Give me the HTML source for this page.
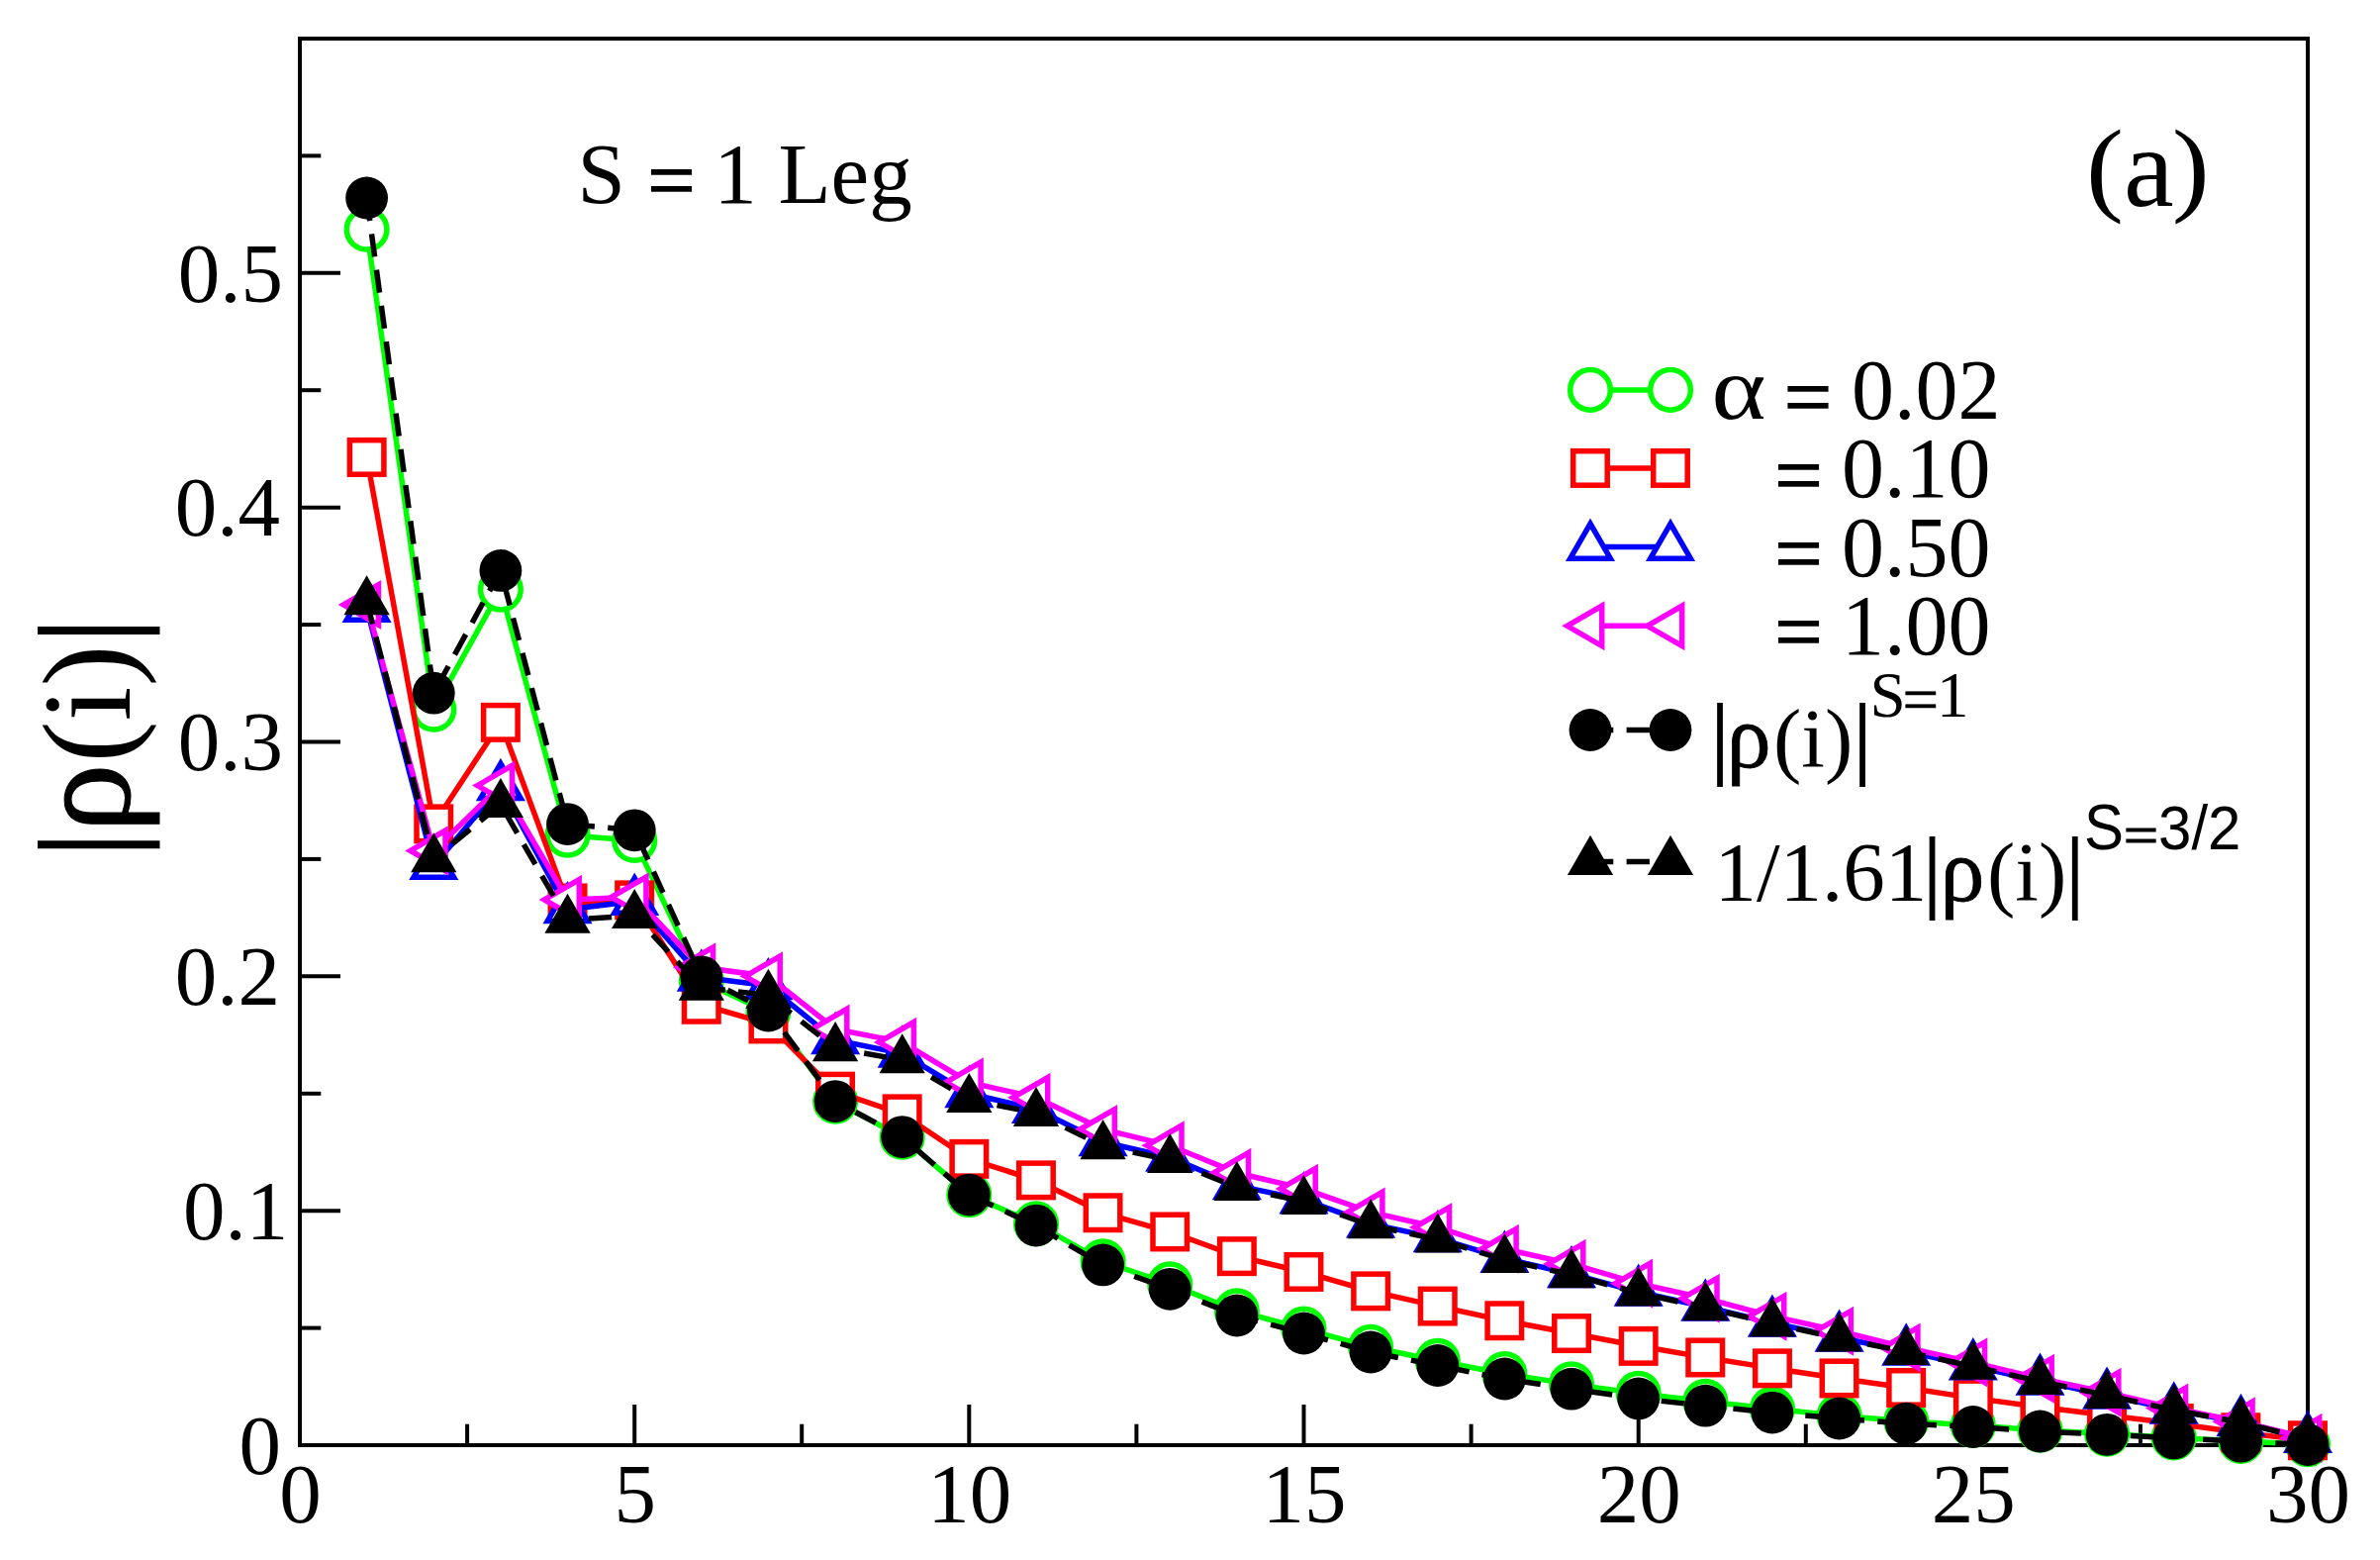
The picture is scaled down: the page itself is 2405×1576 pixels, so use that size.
<!DOCTYPE html>
<html><head><meta charset="utf-8"><title>plot</title>
<style>html,body{margin:0;padding:0;background:#fff}svg{display:block}</style></head>
<body>
<svg width="2405" height="1576" viewBox="0 0 2405 1576" shape-rendering="geometricPrecision">
<rect width="2405" height="1576" fill="#fff"/>
<g id="axes" stroke="#000" stroke-width="4" fill="none" stroke-linecap="butt">
<rect x="303.0" y="39.0" width="2029.0" height="1421.0"/>
<line x1="303.0" y1="1460.0" x2="344.0" y2="1460.0"/>
<line x1="303.0" y1="1341.6" x2="324.3" y2="1341.6"/>
<line x1="303.0" y1="1223.2" x2="344.0" y2="1223.2"/>
<line x1="303.0" y1="1104.8" x2="324.3" y2="1104.8"/>
<line x1="303.0" y1="986.3" x2="344.0" y2="986.3"/>
<line x1="303.0" y1="867.9" x2="324.3" y2="867.9"/>
<line x1="303.0" y1="749.5" x2="344.0" y2="749.5"/>
<line x1="303.0" y1="631.1" x2="324.3" y2="631.1"/>
<line x1="303.0" y1="512.7" x2="344.0" y2="512.7"/>
<line x1="303.0" y1="394.2" x2="324.3" y2="394.2"/>
<line x1="303.0" y1="275.8" x2="344.0" y2="275.8"/>
<line x1="303.0" y1="157.4" x2="324.3" y2="157.4"/>
<line x1="303.0" y1="39.0" x2="344.0" y2="39.0"/>
<line x1="303.0" y1="1460.0" x2="303.0" y2="1419.0"/>
<line x1="472.1" y1="1460.0" x2="472.1" y2="1438.7"/>
<line x1="641.2" y1="1460.0" x2="641.2" y2="1419.0"/>
<line x1="810.2" y1="1460.0" x2="810.2" y2="1438.7"/>
<line x1="979.3" y1="1460.0" x2="979.3" y2="1419.0"/>
<line x1="1148.4" y1="1460.0" x2="1148.4" y2="1438.7"/>
<line x1="1317.5" y1="1460.0" x2="1317.5" y2="1419.0"/>
<line x1="1486.6" y1="1460.0" x2="1486.6" y2="1438.7"/>
<line x1="1655.7" y1="1460.0" x2="1655.7" y2="1419.0"/>
<line x1="1824.8" y1="1460.0" x2="1824.8" y2="1438.7"/>
<line x1="1993.8" y1="1460.0" x2="1993.8" y2="1419.0"/>
<line x1="2162.9" y1="1460.0" x2="2162.9" y2="1438.7"/>
<line x1="2332.0" y1="1460.0" x2="2332.0" y2="1419.0"/>
</g>
<g id="ticklabels" font-family="'Liberation Serif', serif" font-size="85" fill="#000">
<text x="284.0" y="1488.7" text-anchor="end">0</text>
<text x="291.3" y="1251.9" text-anchor="end">0.1</text>
<text x="283.0" y="1015.0" text-anchor="end">0.2</text>
<text x="286.0" y="778.2" text-anchor="end">0.3</text>
<text x="283.0" y="541.4" text-anchor="end">0.4</text>
<text x="286.0" y="304.5" text-anchor="end">0.5</text>
<text x="303.5" y="1538" text-anchor="middle">0</text>
<text x="641.7" y="1538" text-anchor="middle">5</text>
<text x="979.8" y="1538" text-anchor="middle">10</text>
<text x="1318.0" y="1538" text-anchor="middle">15</text>
<text x="1656.2" y="1538" text-anchor="middle">20</text>
<text x="1994.3" y="1538" text-anchor="middle">25</text>
<text x="2332.5" y="1538" text-anchor="middle">30</text>
</g>
<g id="data">
<polyline points="370.6,231.8 438.3,716.8 505.9,595.6 573.5,843.8 641.2,849.0 708.8,991.1 776.4,1022.6 844.1,1112.8 911.7,1148.8 979.3,1207.1 1047.0,1236.2 1114.6,1274.3 1182.2,1297.3 1249.9,1324.3 1317.5,1342.5 1385.1,1360.8 1452.8,1374.7 1520.4,1388.0 1588.0,1398.4 1655.7,1407.7 1723.3,1415.7 1790.9,1423.3 1858.6,1430.2 1926.2,1435.8 1993.8,1439.9 2061.5,1444.8 2129.1,1448.6 2196.7,1452.4 2264.4,1456.0 2332.0,1459.3" fill="none" stroke="#00ff00" stroke-width="5.5"/>
<circle cx="370.6" cy="231.8" r="20.3" fill="#fff" stroke="#00ff00" stroke-width="5.5"/>
<circle cx="438.3" cy="716.8" r="20.3" fill="#fff" stroke="#00ff00" stroke-width="5.5"/>
<circle cx="505.9" cy="595.6" r="20.3" fill="#fff" stroke="#00ff00" stroke-width="5.5"/>
<circle cx="573.5" cy="843.8" r="20.3" fill="#fff" stroke="#00ff00" stroke-width="5.5"/>
<circle cx="641.2" cy="849.0" r="20.3" fill="#fff" stroke="#00ff00" stroke-width="5.5"/>
<circle cx="708.8" cy="991.1" r="20.3" fill="#fff" stroke="#00ff00" stroke-width="5.5"/>
<circle cx="776.4" cy="1022.6" r="20.3" fill="#fff" stroke="#00ff00" stroke-width="5.5"/>
<circle cx="844.1" cy="1112.8" r="20.3" fill="#fff" stroke="#00ff00" stroke-width="5.5"/>
<circle cx="911.7" cy="1148.8" r="20.3" fill="#fff" stroke="#00ff00" stroke-width="5.5"/>
<circle cx="979.3" cy="1207.1" r="20.3" fill="#fff" stroke="#00ff00" stroke-width="5.5"/>
<circle cx="1047.0" cy="1236.2" r="20.3" fill="#fff" stroke="#00ff00" stroke-width="5.5"/>
<circle cx="1114.6" cy="1274.3" r="20.3" fill="#fff" stroke="#00ff00" stroke-width="5.5"/>
<circle cx="1182.2" cy="1297.3" r="20.3" fill="#fff" stroke="#00ff00" stroke-width="5.5"/>
<circle cx="1249.9" cy="1324.3" r="20.3" fill="#fff" stroke="#00ff00" stroke-width="5.5"/>
<circle cx="1317.5" cy="1342.5" r="20.3" fill="#fff" stroke="#00ff00" stroke-width="5.5"/>
<circle cx="1385.1" cy="1360.8" r="20.3" fill="#fff" stroke="#00ff00" stroke-width="5.5"/>
<circle cx="1452.8" cy="1374.7" r="20.3" fill="#fff" stroke="#00ff00" stroke-width="5.5"/>
<circle cx="1520.4" cy="1388.0" r="20.3" fill="#fff" stroke="#00ff00" stroke-width="5.5"/>
<circle cx="1588.0" cy="1398.4" r="20.3" fill="#fff" stroke="#00ff00" stroke-width="5.5"/>
<circle cx="1655.7" cy="1407.7" r="20.3" fill="#fff" stroke="#00ff00" stroke-width="5.5"/>
<circle cx="1723.3" cy="1415.7" r="20.3" fill="#fff" stroke="#00ff00" stroke-width="5.5"/>
<circle cx="1790.9" cy="1423.3" r="20.3" fill="#fff" stroke="#00ff00" stroke-width="5.5"/>
<circle cx="1858.6" cy="1430.2" r="20.3" fill="#fff" stroke="#00ff00" stroke-width="5.5"/>
<circle cx="1926.2" cy="1435.8" r="20.3" fill="#fff" stroke="#00ff00" stroke-width="5.5"/>
<circle cx="1993.8" cy="1439.9" r="20.3" fill="#fff" stroke="#00ff00" stroke-width="5.5"/>
<circle cx="2061.5" cy="1444.8" r="20.3" fill="#fff" stroke="#00ff00" stroke-width="5.5"/>
<circle cx="2129.1" cy="1448.6" r="20.3" fill="#fff" stroke="#00ff00" stroke-width="5.5"/>
<circle cx="2196.7" cy="1452.4" r="20.3" fill="#fff" stroke="#00ff00" stroke-width="5.5"/>
<circle cx="2264.4" cy="1456.0" r="20.3" fill="#fff" stroke="#00ff00" stroke-width="5.5"/>
<circle cx="2332.0" cy="1459.3" r="20.3" fill="#fff" stroke="#00ff00" stroke-width="5.5"/>
<polyline points="370.6,462.0 438.3,832.4 505.9,729.8 573.5,912.4 641.2,909.4 708.8,1014.8 776.4,1034.4 844.1,1102.6 911.7,1125.4 979.3,1170.8 1047.0,1192.4 1114.6,1225.3 1182.2,1244.5 1249.9,1269.1 1317.5,1285.0 1385.1,1304.4 1452.8,1319.6 1520.4,1334.2 1588.0,1347.0 1655.7,1359.8 1723.3,1371.4 1790.9,1382.3 1858.6,1392.5 1926.2,1402.0 1993.8,1412.4 2061.5,1421.4 2129.1,1429.7 2196.7,1438.0 2264.4,1447.2 2332.0,1455.3" fill="none" stroke="#ff0000" stroke-width="5.5"/>
<rect x="353.4" y="444.7" width="34.5" height="34.5" fill="#fff" stroke="#ff0000" stroke-width="5.5"/>
<rect x="421.0" y="815.1" width="34.5" height="34.5" fill="#fff" stroke="#ff0000" stroke-width="5.5"/>
<rect x="488.6" y="712.6" width="34.5" height="34.5" fill="#fff" stroke="#ff0000" stroke-width="5.5"/>
<rect x="556.3" y="895.2" width="34.5" height="34.5" fill="#fff" stroke="#ff0000" stroke-width="5.5"/>
<rect x="623.9" y="892.1" width="34.5" height="34.5" fill="#fff" stroke="#ff0000" stroke-width="5.5"/>
<rect x="691.5" y="997.5" width="34.5" height="34.5" fill="#fff" stroke="#ff0000" stroke-width="5.5"/>
<rect x="759.2" y="1017.2" width="34.5" height="34.5" fill="#fff" stroke="#ff0000" stroke-width="5.5"/>
<rect x="826.8" y="1085.4" width="34.5" height="34.5" fill="#fff" stroke="#ff0000" stroke-width="5.5"/>
<rect x="894.4" y="1108.1" width="34.5" height="34.5" fill="#fff" stroke="#ff0000" stroke-width="5.5"/>
<rect x="962.1" y="1153.6" width="34.5" height="34.5" fill="#fff" stroke="#ff0000" stroke-width="5.5"/>
<rect x="1029.7" y="1175.1" width="34.5" height="34.5" fill="#fff" stroke="#ff0000" stroke-width="5.5"/>
<rect x="1097.3" y="1208.0" width="34.5" height="34.5" fill="#fff" stroke="#ff0000" stroke-width="5.5"/>
<rect x="1165.0" y="1227.2" width="34.5" height="34.5" fill="#fff" stroke="#ff0000" stroke-width="5.5"/>
<rect x="1232.6" y="1251.9" width="34.5" height="34.5" fill="#fff" stroke="#ff0000" stroke-width="5.5"/>
<rect x="1300.2" y="1267.7" width="34.5" height="34.5" fill="#fff" stroke="#ff0000" stroke-width="5.5"/>
<rect x="1367.9" y="1287.1" width="34.5" height="34.5" fill="#fff" stroke="#ff0000" stroke-width="5.5"/>
<rect x="1435.5" y="1302.3" width="34.5" height="34.5" fill="#fff" stroke="#ff0000" stroke-width="5.5"/>
<rect x="1503.1" y="1317.0" width="34.5" height="34.5" fill="#fff" stroke="#ff0000" stroke-width="5.5"/>
<rect x="1570.8" y="1329.8" width="34.5" height="34.5" fill="#fff" stroke="#ff0000" stroke-width="5.5"/>
<rect x="1638.4" y="1342.6" width="34.5" height="34.5" fill="#fff" stroke="#ff0000" stroke-width="5.5"/>
<rect x="1706.0" y="1354.2" width="34.5" height="34.5" fill="#fff" stroke="#ff0000" stroke-width="5.5"/>
<rect x="1773.7" y="1365.1" width="34.5" height="34.5" fill="#fff" stroke="#ff0000" stroke-width="5.5"/>
<rect x="1841.3" y="1375.2" width="34.5" height="34.5" fill="#fff" stroke="#ff0000" stroke-width="5.5"/>
<rect x="1908.9" y="1384.7" width="34.5" height="34.5" fill="#fff" stroke="#ff0000" stroke-width="5.5"/>
<rect x="1976.6" y="1395.1" width="34.5" height="34.5" fill="#fff" stroke="#ff0000" stroke-width="5.5"/>
<rect x="2044.2" y="1404.1" width="34.5" height="34.5" fill="#fff" stroke="#ff0000" stroke-width="5.5"/>
<rect x="2111.8" y="1412.4" width="34.5" height="34.5" fill="#fff" stroke="#ff0000" stroke-width="5.5"/>
<rect x="2179.5" y="1420.7" width="34.5" height="34.5" fill="#fff" stroke="#ff0000" stroke-width="5.5"/>
<rect x="2247.1" y="1430.0" width="34.5" height="34.5" fill="#fff" stroke="#ff0000" stroke-width="5.5"/>
<rect x="2314.7" y="1438.0" width="34.5" height="34.5" fill="#fff" stroke="#ff0000" stroke-width="5.5"/>
<polyline points="370.6,614.5 438.3,874.5 505.9,794.7 573.5,918.8 641.2,910.5 708.8,987.3 776.4,995.8 844.1,1050.8 911.7,1064.3 979.3,1104.8 1047.0,1120.6 1114.6,1153.8 1182.2,1169.2 1249.9,1197.8 1317.5,1212.0 1385.1,1236.4 1452.8,1250.9 1520.4,1271.5 1588.0,1286.9 1655.7,1305.3 1723.3,1320.3 1790.9,1336.4 1858.6,1351.3 1926.2,1365.3 1993.8,1380.0 2061.5,1395.3 2129.1,1409.3 2196.7,1424.2 2264.4,1436.8 2332.0,1453.6" fill="none" stroke="#0000ff" stroke-width="5.5"/>
<polygon points="370.6,591.1 350.3,626.2 390.9,626.2" fill="#fff" stroke="#0000ff" stroke-width="5.5" stroke-miterlimit="10"/>
<polygon points="438.3,851.1 418.0,886.3 458.6,886.3" fill="#fff" stroke="#0000ff" stroke-width="5.5" stroke-miterlimit="10"/>
<polygon points="505.9,771.3 485.6,806.5 526.2,806.5" fill="#fff" stroke="#0000ff" stroke-width="5.5" stroke-miterlimit="10"/>
<polygon points="573.5,895.4 553.2,930.6 593.8,930.6" fill="#fff" stroke="#0000ff" stroke-width="5.5" stroke-miterlimit="10"/>
<polygon points="641.2,887.1 620.9,922.3 661.5,922.3" fill="#fff" stroke="#0000ff" stroke-width="5.5" stroke-miterlimit="10"/>
<polygon points="708.8,963.8 688.5,999.0 729.1,999.0" fill="#fff" stroke="#0000ff" stroke-width="5.5" stroke-miterlimit="10"/>
<polygon points="776.4,972.4 756.1,1007.5 796.7,1007.5" fill="#fff" stroke="#0000ff" stroke-width="5.5" stroke-miterlimit="10"/>
<polygon points="844.1,1027.3 823.8,1062.5 864.4,1062.5" fill="#fff" stroke="#0000ff" stroke-width="5.5" stroke-miterlimit="10"/>
<polygon points="911.7,1040.8 891.4,1076.0 932.0,1076.0" fill="#fff" stroke="#0000ff" stroke-width="5.5" stroke-miterlimit="10"/>
<polygon points="979.3,1081.3 959.0,1116.5 999.6,1116.5" fill="#fff" stroke="#0000ff" stroke-width="5.5" stroke-miterlimit="10"/>
<polygon points="1047.0,1097.2 1026.7,1132.3 1067.3,1132.3" fill="#fff" stroke="#0000ff" stroke-width="5.5" stroke-miterlimit="10"/>
<polygon points="1114.6,1130.3 1094.3,1165.5 1134.9,1165.5" fill="#fff" stroke="#0000ff" stroke-width="5.5" stroke-miterlimit="10"/>
<polygon points="1182.2,1145.7 1161.9,1180.9 1202.5,1180.9" fill="#fff" stroke="#0000ff" stroke-width="5.5" stroke-miterlimit="10"/>
<polygon points="1249.9,1174.4 1229.6,1209.5 1270.2,1209.5" fill="#fff" stroke="#0000ff" stroke-width="5.5" stroke-miterlimit="10"/>
<polygon points="1317.5,1188.6 1297.2,1223.8 1337.8,1223.8" fill="#fff" stroke="#0000ff" stroke-width="5.5" stroke-miterlimit="10"/>
<polygon points="1385.1,1213.0 1364.8,1248.1 1405.4,1248.1" fill="#fff" stroke="#0000ff" stroke-width="5.5" stroke-miterlimit="10"/>
<polygon points="1452.8,1227.4 1432.5,1262.6 1473.1,1262.6" fill="#fff" stroke="#0000ff" stroke-width="5.5" stroke-miterlimit="10"/>
<polygon points="1520.4,1248.0 1500.1,1283.2 1540.7,1283.2" fill="#fff" stroke="#0000ff" stroke-width="5.5" stroke-miterlimit="10"/>
<polygon points="1588.0,1263.4 1567.7,1298.6 1608.3,1298.6" fill="#fff" stroke="#0000ff" stroke-width="5.5" stroke-miterlimit="10"/>
<polygon points="1655.7,1281.9 1635.4,1317.1 1676.0,1317.1" fill="#fff" stroke="#0000ff" stroke-width="5.5" stroke-miterlimit="10"/>
<polygon points="1723.3,1296.8 1703.0,1332.0 1743.6,1332.0" fill="#fff" stroke="#0000ff" stroke-width="5.5" stroke-miterlimit="10"/>
<polygon points="1790.9,1312.9 1770.6,1348.1 1811.2,1348.1" fill="#fff" stroke="#0000ff" stroke-width="5.5" stroke-miterlimit="10"/>
<polygon points="1858.6,1327.9 1838.3,1363.0 1878.9,1363.0" fill="#fff" stroke="#0000ff" stroke-width="5.5" stroke-miterlimit="10"/>
<polygon points="1926.2,1341.8 1905.9,1377.0 1946.5,1377.0" fill="#fff" stroke="#0000ff" stroke-width="5.5" stroke-miterlimit="10"/>
<polygon points="1993.8,1356.5 1973.5,1391.7 2014.1,1391.7" fill="#fff" stroke="#0000ff" stroke-width="5.5" stroke-miterlimit="10"/>
<polygon points="2061.5,1371.9 2041.2,1407.1 2081.8,1407.1" fill="#fff" stroke="#0000ff" stroke-width="5.5" stroke-miterlimit="10"/>
<polygon points="2129.1,1385.9 2108.8,1421.0 2149.4,1421.0" fill="#fff" stroke="#0000ff" stroke-width="5.5" stroke-miterlimit="10"/>
<polygon points="2196.7,1400.8 2176.4,1436.0 2217.0,1436.0" fill="#fff" stroke="#0000ff" stroke-width="5.5" stroke-miterlimit="10"/>
<polygon points="2264.4,1413.3 2244.1,1448.5 2284.7,1448.5" fill="#fff" stroke="#0000ff" stroke-width="5.5" stroke-miterlimit="10"/>
<polygon points="2332.0,1430.2 2311.7,1465.3 2352.3,1465.3" fill="#fff" stroke="#0000ff" stroke-width="5.5" stroke-miterlimit="10"/>
<polyline points="370.6,611.0 438.3,859.4 505.9,793.6 573.5,908.9 641.2,906.3 708.8,977.3 776.4,986.3 844.1,1039.6 911.7,1052.9 979.3,1093.4 1047.0,1108.8 1114.6,1141.0 1182.2,1157.3 1249.9,1184.8 1317.5,1200.9 1385.1,1224.6 1452.8,1240.0 1520.4,1261.8 1588.0,1276.9 1655.7,1296.6 1723.3,1311.7 1790.9,1329.7 1858.6,1344.7 1926.2,1361.5 1993.8,1376.4 2061.5,1392.7 2129.1,1406.7 2196.7,1422.6 2264.4,1436.3 2332.0,1452.9" fill="none" stroke="#ff00ff" stroke-width="5.5"/>
<polygon points="347.2,611.0 382.4,590.7 382.4,631.3" fill="#fff" stroke="#ff00ff" stroke-width="5.5" stroke-miterlimit="10"/>
<polygon points="414.8,859.4 450.0,839.1 450.0,879.7" fill="#fff" stroke="#ff00ff" stroke-width="5.5" stroke-miterlimit="10"/>
<polygon points="482.5,793.6 517.6,773.3 517.6,813.9" fill="#fff" stroke="#ff00ff" stroke-width="5.5" stroke-miterlimit="10"/>
<polygon points="550.1,908.9 585.3,888.6 585.3,929.2" fill="#fff" stroke="#ff00ff" stroke-width="5.5" stroke-miterlimit="10"/>
<polygon points="617.7,906.3 652.9,886.0 652.9,926.6" fill="#fff" stroke="#ff00ff" stroke-width="5.5" stroke-miterlimit="10"/>
<polygon points="685.4,977.3 720.5,957.0 720.5,997.6" fill="#fff" stroke="#ff00ff" stroke-width="5.5" stroke-miterlimit="10"/>
<polygon points="753.0,986.3 788.2,966.0 788.2,1006.6" fill="#fff" stroke="#ff00ff" stroke-width="5.5" stroke-miterlimit="10"/>
<polygon points="820.6,1039.6 855.8,1019.3 855.8,1059.9" fill="#fff" stroke="#ff00ff" stroke-width="5.5" stroke-miterlimit="10"/>
<polygon points="888.3,1052.9 923.4,1032.6 923.4,1073.2" fill="#fff" stroke="#ff00ff" stroke-width="5.5" stroke-miterlimit="10"/>
<polygon points="955.9,1093.4 991.1,1073.1 991.1,1113.7" fill="#fff" stroke="#ff00ff" stroke-width="5.5" stroke-miterlimit="10"/>
<polygon points="1023.5,1108.8 1058.7,1088.5 1058.7,1129.1" fill="#fff" stroke="#ff00ff" stroke-width="5.5" stroke-miterlimit="10"/>
<polygon points="1091.2,1141.0 1126.3,1120.7 1126.3,1161.3" fill="#fff" stroke="#ff00ff" stroke-width="5.5" stroke-miterlimit="10"/>
<polygon points="1158.8,1157.3 1194.0,1137.0 1194.0,1177.6" fill="#fff" stroke="#ff00ff" stroke-width="5.5" stroke-miterlimit="10"/>
<polygon points="1226.4,1184.8 1261.6,1164.5 1261.6,1205.1" fill="#fff" stroke="#ff00ff" stroke-width="5.5" stroke-miterlimit="10"/>
<polygon points="1294.1,1200.9 1329.2,1180.6 1329.2,1221.2" fill="#fff" stroke="#ff00ff" stroke-width="5.5" stroke-miterlimit="10"/>
<polygon points="1361.7,1224.6 1396.9,1204.3 1396.9,1244.9" fill="#fff" stroke="#ff00ff" stroke-width="5.5" stroke-miterlimit="10"/>
<polygon points="1429.3,1240.0 1464.5,1219.7 1464.5,1260.3" fill="#fff" stroke="#ff00ff" stroke-width="5.5" stroke-miterlimit="10"/>
<polygon points="1497.0,1261.8 1532.1,1241.5 1532.1,1282.1" fill="#fff" stroke="#ff00ff" stroke-width="5.5" stroke-miterlimit="10"/>
<polygon points="1564.6,1276.9 1599.8,1256.6 1599.8,1297.2" fill="#fff" stroke="#ff00ff" stroke-width="5.5" stroke-miterlimit="10"/>
<polygon points="1632.2,1296.6 1667.4,1276.3 1667.4,1316.9" fill="#fff" stroke="#ff00ff" stroke-width="5.5" stroke-miterlimit="10"/>
<polygon points="1699.9,1311.7 1735.0,1291.4 1735.0,1332.0" fill="#fff" stroke="#ff00ff" stroke-width="5.5" stroke-miterlimit="10"/>
<polygon points="1767.5,1329.7 1802.7,1309.4 1802.7,1350.0" fill="#fff" stroke="#ff00ff" stroke-width="5.5" stroke-miterlimit="10"/>
<polygon points="1835.1,1344.7 1870.3,1324.4 1870.3,1365.0" fill="#fff" stroke="#ff00ff" stroke-width="5.5" stroke-miterlimit="10"/>
<polygon points="1902.8,1361.5 1937.9,1341.2 1937.9,1381.8" fill="#fff" stroke="#ff00ff" stroke-width="5.5" stroke-miterlimit="10"/>
<polygon points="1970.4,1376.4 2005.6,1356.1 2005.6,1396.7" fill="#fff" stroke="#ff00ff" stroke-width="5.5" stroke-miterlimit="10"/>
<polygon points="2038.0,1392.7 2073.2,1372.4 2073.2,1413.0" fill="#fff" stroke="#ff00ff" stroke-width="5.5" stroke-miterlimit="10"/>
<polygon points="2105.7,1406.7 2140.8,1386.4 2140.8,1427.0" fill="#fff" stroke="#ff00ff" stroke-width="5.5" stroke-miterlimit="10"/>
<polygon points="2173.3,1422.6 2208.5,1402.3 2208.5,1442.9" fill="#fff" stroke="#ff00ff" stroke-width="5.5" stroke-miterlimit="10"/>
<polygon points="2240.9,1436.3 2276.1,1416.0 2276.1,1456.6" fill="#fff" stroke="#ff00ff" stroke-width="5.5" stroke-miterlimit="10"/>
<polygon points="2308.6,1452.9 2343.7,1432.6 2343.7,1473.2" fill="#fff" stroke="#ff00ff" stroke-width="5.5" stroke-miterlimit="10"/>
<polyline points="370.6,200.0 438.3,700.2 505.9,576.4 573.5,832.6 641.2,838.8 708.8,986.8 776.4,1021.1 844.1,1112.6 911.7,1148.6 979.3,1207.1 1047.0,1238.1 1114.6,1277.9 1182.2,1302.3 1249.9,1329.0 1317.5,1347.0 1385.1,1366.0 1452.8,1379.5 1520.4,1393.0 1588.0,1403.2 1655.7,1412.9 1723.3,1420.2 1790.9,1427.1 1858.6,1433.0 1926.2,1438.2 1993.8,1441.5 2061.5,1446.0 2129.1,1449.3 2196.7,1452.9 2264.4,1456.2 2332.0,1459.5" fill="none" stroke="#000000" stroke-width="5.5" stroke-dasharray="23.3 13.3"/>
<circle cx="370.6" cy="200.0" r="21.4" fill="#000000" stroke="none" stroke-width="0"/>
<circle cx="438.3" cy="700.2" r="21.4" fill="#000000" stroke="none" stroke-width="0"/>
<circle cx="505.9" cy="576.4" r="21.4" fill="#000000" stroke="none" stroke-width="0"/>
<circle cx="573.5" cy="832.6" r="21.4" fill="#000000" stroke="none" stroke-width="0"/>
<circle cx="641.2" cy="838.8" r="21.4" fill="#000000" stroke="none" stroke-width="0"/>
<circle cx="708.8" cy="986.8" r="21.4" fill="#000000" stroke="none" stroke-width="0"/>
<circle cx="776.4" cy="1021.1" r="21.4" fill="#000000" stroke="none" stroke-width="0"/>
<circle cx="844.1" cy="1112.6" r="21.4" fill="#000000" stroke="none" stroke-width="0"/>
<circle cx="911.7" cy="1148.6" r="21.4" fill="#000000" stroke="none" stroke-width="0"/>
<circle cx="979.3" cy="1207.1" r="21.4" fill="#000000" stroke="none" stroke-width="0"/>
<circle cx="1047.0" cy="1238.1" r="21.4" fill="#000000" stroke="none" stroke-width="0"/>
<circle cx="1114.6" cy="1277.9" r="21.4" fill="#000000" stroke="none" stroke-width="0"/>
<circle cx="1182.2" cy="1302.3" r="21.4" fill="#000000" stroke="none" stroke-width="0"/>
<circle cx="1249.9" cy="1329.0" r="21.4" fill="#000000" stroke="none" stroke-width="0"/>
<circle cx="1317.5" cy="1347.0" r="21.4" fill="#000000" stroke="none" stroke-width="0"/>
<circle cx="1385.1" cy="1366.0" r="21.4" fill="#000000" stroke="none" stroke-width="0"/>
<circle cx="1452.8" cy="1379.5" r="21.4" fill="#000000" stroke="none" stroke-width="0"/>
<circle cx="1520.4" cy="1393.0" r="21.4" fill="#000000" stroke="none" stroke-width="0"/>
<circle cx="1588.0" cy="1403.2" r="21.4" fill="#000000" stroke="none" stroke-width="0"/>
<circle cx="1655.7" cy="1412.9" r="21.4" fill="#000000" stroke="none" stroke-width="0"/>
<circle cx="1723.3" cy="1420.2" r="21.4" fill="#000000" stroke="none" stroke-width="0"/>
<circle cx="1790.9" cy="1427.1" r="21.4" fill="#000000" stroke="none" stroke-width="0"/>
<circle cx="1858.6" cy="1433.0" r="21.4" fill="#000000" stroke="none" stroke-width="0"/>
<circle cx="1926.2" cy="1438.2" r="21.4" fill="#000000" stroke="none" stroke-width="0"/>
<circle cx="1993.8" cy="1441.5" r="21.4" fill="#000000" stroke="none" stroke-width="0"/>
<circle cx="2061.5" cy="1446.0" r="21.4" fill="#000000" stroke="none" stroke-width="0"/>
<circle cx="2129.1" cy="1449.3" r="21.4" fill="#000000" stroke="none" stroke-width="0"/>
<circle cx="2196.7" cy="1452.9" r="21.4" fill="#000000" stroke="none" stroke-width="0"/>
<circle cx="2264.4" cy="1456.2" r="21.4" fill="#000000" stroke="none" stroke-width="0"/>
<circle cx="2332.0" cy="1459.5" r="21.4" fill="#000000" stroke="none" stroke-width="0"/>
<polyline points="370.6,607.9 438.3,867.9 505.9,812.7 573.5,929.5 641.2,924.8 708.8,997.5 776.4,1005.5 844.1,1058.8 911.7,1070.9 979.3,1110.7 1047.0,1124.6 1114.6,1157.8 1182.2,1171.8 1249.9,1199.7 1317.5,1213.7 1385.1,1237.9 1452.8,1252.1 1520.4,1272.7 1588.0,1287.8 1655.7,1306.3 1723.3,1321.0 1790.9,1337.1 1858.6,1352.0 1926.2,1365.7 1993.8,1380.4 2061.5,1395.6 2129.1,1409.6 2196.7,1424.5 2264.4,1437.0 2332.0,1453.8" fill="none" stroke="#000000" stroke-width="5.5" stroke-dasharray="23.3 13.3"/>
<polygon points="370.6,581.2 347.5,621.2 393.8,621.2" fill="#000000" stroke="none" stroke-width="0" stroke-miterlimit="10"/>
<polygon points="438.3,841.2 415.1,881.3 461.4,881.3" fill="#000000" stroke="none" stroke-width="0" stroke-miterlimit="10"/>
<polygon points="505.9,786.0 482.8,826.1 529.0,826.1" fill="#000000" stroke="none" stroke-width="0" stroke-miterlimit="10"/>
<polygon points="573.5,902.8 550.4,942.8 596.7,942.8" fill="#000000" stroke="none" stroke-width="0" stroke-miterlimit="10"/>
<polygon points="641.2,898.1 618.0,938.1 664.3,938.1" fill="#000000" stroke="none" stroke-width="0" stroke-miterlimit="10"/>
<polygon points="708.8,970.8 685.7,1010.8 731.9,1010.8" fill="#000000" stroke="none" stroke-width="0" stroke-miterlimit="10"/>
<polygon points="776.4,978.8 753.3,1018.9 799.6,1018.9" fill="#000000" stroke="none" stroke-width="0" stroke-miterlimit="10"/>
<polygon points="844.1,1032.1 820.9,1072.2 867.2,1072.2" fill="#000000" stroke="none" stroke-width="0" stroke-miterlimit="10"/>
<polygon points="911.7,1044.2 888.6,1084.2 934.8,1084.2" fill="#000000" stroke="none" stroke-width="0" stroke-miterlimit="10"/>
<polygon points="979.3,1084.0 956.2,1124.0 1002.5,1124.0" fill="#000000" stroke="none" stroke-width="0" stroke-miterlimit="10"/>
<polygon points="1047.0,1097.9 1023.8,1138.0 1070.1,1138.0" fill="#000000" stroke="none" stroke-width="0" stroke-miterlimit="10"/>
<polygon points="1114.6,1131.1 1091.5,1171.2 1137.7,1171.2" fill="#000000" stroke="none" stroke-width="0" stroke-miterlimit="10"/>
<polygon points="1182.2,1145.1 1159.1,1185.1 1205.4,1185.1" fill="#000000" stroke="none" stroke-width="0" stroke-miterlimit="10"/>
<polygon points="1249.9,1173.0 1226.7,1213.1 1273.0,1213.1" fill="#000000" stroke="none" stroke-width="0" stroke-miterlimit="10"/>
<polygon points="1317.5,1187.0 1294.4,1227.0 1340.6,1227.0" fill="#000000" stroke="none" stroke-width="0" stroke-miterlimit="10"/>
<polygon points="1385.1,1211.2 1362.0,1251.2 1408.3,1251.2" fill="#000000" stroke="none" stroke-width="0" stroke-miterlimit="10"/>
<polygon points="1452.8,1225.4 1429.6,1265.4 1475.9,1265.4" fill="#000000" stroke="none" stroke-width="0" stroke-miterlimit="10"/>
<polygon points="1520.4,1246.0 1497.3,1286.0 1543.5,1286.0" fill="#000000" stroke="none" stroke-width="0" stroke-miterlimit="10"/>
<polygon points="1588.0,1261.1 1564.9,1301.2 1611.2,1301.2" fill="#000000" stroke="none" stroke-width="0" stroke-miterlimit="10"/>
<polygon points="1655.7,1279.6 1632.5,1319.6 1678.8,1319.6" fill="#000000" stroke="none" stroke-width="0" stroke-miterlimit="10"/>
<polygon points="1723.3,1294.3 1700.2,1334.3 1746.4,1334.3" fill="#000000" stroke="none" stroke-width="0" stroke-miterlimit="10"/>
<polygon points="1790.9,1310.4 1767.8,1350.4 1814.1,1350.4" fill="#000000" stroke="none" stroke-width="0" stroke-miterlimit="10"/>
<polygon points="1858.6,1325.3 1835.4,1365.4 1881.7,1365.4" fill="#000000" stroke="none" stroke-width="0" stroke-miterlimit="10"/>
<polygon points="1926.2,1339.0 1903.1,1379.1 1949.3,1379.1" fill="#000000" stroke="none" stroke-width="0" stroke-miterlimit="10"/>
<polygon points="1993.8,1353.7 1970.7,1393.8 2017.0,1393.8" fill="#000000" stroke="none" stroke-width="0" stroke-miterlimit="10"/>
<polygon points="2061.5,1368.9 2038.3,1408.9 2084.6,1408.9" fill="#000000" stroke="none" stroke-width="0" stroke-miterlimit="10"/>
<polygon points="2129.1,1382.9 2106.0,1422.9 2152.2,1422.9" fill="#000000" stroke="none" stroke-width="0" stroke-miterlimit="10"/>
<polygon points="2196.7,1397.8 2173.6,1437.8 2219.9,1437.8" fill="#000000" stroke="none" stroke-width="0" stroke-miterlimit="10"/>
<polygon points="2264.4,1410.3 2241.2,1450.4 2287.5,1450.4" fill="#000000" stroke="none" stroke-width="0" stroke-miterlimit="10"/>
<polygon points="2332.0,1427.1 2308.9,1467.2 2355.1,1467.2" fill="#000000" stroke="none" stroke-width="0" stroke-miterlimit="10"/>
</g>
<g id="legend">
<line x1="1607.0" y1="393.9" x2="1688.0" y2="393.9" stroke="#00ff00" stroke-width="5.5"/>
<circle cx="1607.0" cy="393.9" r="20.3" fill="#fff" stroke="#00ff00" stroke-width="5.5"/>
<circle cx="1688.0" cy="393.9" r="20.3" fill="#fff" stroke="#00ff00" stroke-width="5.5"/>
<line x1="1607.0" y1="473.0" x2="1688.0" y2="473.0" stroke="#ff0000" stroke-width="5.5"/>
<rect x="1589.7" y="455.7" width="34.5" height="34.5" fill="#fff" stroke="#ff0000" stroke-width="5.5"/>
<rect x="1670.7" y="455.7" width="34.5" height="34.5" fill="#fff" stroke="#ff0000" stroke-width="5.5"/>
<line x1="1607.0" y1="552.5" x2="1688.0" y2="552.5" stroke="#0000ff" stroke-width="5.5"/>
<polygon points="1607.0,529.1 1586.7,564.2 1627.3,564.2" fill="#fff" stroke="#0000ff" stroke-width="5.5" stroke-miterlimit="10"/>
<polygon points="1688.0,529.1 1667.7,564.2 1708.3,564.2" fill="#fff" stroke="#0000ff" stroke-width="5.5" stroke-miterlimit="10"/>
<line x1="1607.0" y1="632.3" x2="1688.0" y2="632.3" stroke="#ff00ff" stroke-width="5.5"/>
<polygon points="1583.6,632.3 1618.7,612.0 1618.7,652.6" fill="#fff" stroke="#ff00ff" stroke-width="5.5" stroke-miterlimit="10"/>
<polygon points="1664.6,632.3 1699.7,612.0 1699.7,652.6" fill="#fff" stroke="#ff00ff" stroke-width="5.5" stroke-miterlimit="10"/>
<line x1="1607.0" y1="737.5" x2="1688.0" y2="737.5" stroke="#000000" stroke-width="5.5" stroke-dasharray="23.3 13.3"/>
<circle cx="1607.0" cy="737.5" r="21.4" fill="#000000" stroke="none" stroke-width="0"/>
<circle cx="1688.0" cy="737.5" r="21.4" fill="#000000" stroke="none" stroke-width="0"/>
<line x1="1607.0" y1="870.55" x2="1688.0" y2="870.55" stroke="#000000" stroke-width="5.5" stroke-dasharray="23.3 13.3"/>
<polygon points="1607.0,843.8 1583.9,883.9 1630.1,883.9" fill="#000000" stroke="none" stroke-width="0" stroke-miterlimit="10"/>
<polygon points="1688.0,843.8 1664.9,883.9 1711.1,883.9" fill="#000000" stroke="none" stroke-width="0" stroke-miterlimit="10"/>
</g>
<g id="texts" fill="#000" font-family="'Liberation Serif', serif" font-size="85">
<g font-size="87"><text x="583.6" y="205">S</text><text x="654.5" y="211.4" stroke="#000" stroke-width="1.6" font-size="85">=</text><text x="721.2" y="205">1 Leg</text></g>
<g font-size="114"><text transform="translate(2108,203.8) scale(1,0.93)">(</text><text x="2146" y="207.6">a</text><text transform="translate(2194.8,203.8) scale(1,0.93)">)</text></g>
<g font-size="86">
<text x="1729.5" y="423.3" font-size="92" textLength="55" lengthAdjust="spacingAndGlyphs">α</text><text x="1803.0" y="429.7" stroke="#000" stroke-width="1.6" font-size="85">=</text><text x="1871" y="423.3">0.02</text>
<text x="1793.5" y="508.7" stroke="#000" stroke-width="1.6" font-size="85">=</text><text x="1861" y="502.3">0.10</text>
<text x="1793.5" y="588.2" stroke="#000" stroke-width="1.6" font-size="85">=</text><text x="1861" y="581.8">0.50</text>
<text x="1793.5" y="667.4" stroke="#000" stroke-width="1.6" font-size="85">=</text><text x="1861" y="661.0">1.00</text>
</g>
<text transform="translate(1738.0,775.7) scale(0.84,1.073)" text-anchor="middle" font-family="'Liberation Sans', sans-serif">|</text><text x="1744.8" y="774.7" stroke="#000" stroke-width="0.8" font-size="90">ρ</text><text x="1792" y="774.7">(i)</text><text transform="translate(1882.0,775.7) scale(0.84,1.073)" text-anchor="middle" font-family="'Liberation Sans', sans-serif">|</text>
<g font-size="65"><text x="1889.5" y="723.8">S</text><text x="1922.5" y="728.7" stroke="#000" stroke-width="0.5">=</text><text x="1957" y="723.8">1</text></g>
<text x="1732.5" y="910.1">1/1.61</text><text transform="translate(1952.6,911.1) scale(0.84,1.073)" text-anchor="middle" font-family="'Liberation Sans', sans-serif">|</text><text x="1960.5" y="910.1" stroke="#000" stroke-width="0.8" font-size="90">ρ</text><text x="2008" y="910.1">(i)</text><text transform="translate(2096.7,911.1) scale(0.84,1.073)" text-anchor="middle" font-family="'Liberation Sans', sans-serif">|</text>
<g font-size="60" font-family="'Liberation Sans', sans-serif"><text transform="translate(2106,858) scale(1,1.088)">S</text><text transform="translate(2146.0,857.7) scale(1,0.72)" stroke="#000" stroke-width="1.2">=</text><text transform="translate(2181.05,858) scale(1,1.04)">3/2</text></g>
<g transform="translate(130.5,857.0) rotate(-90)" font-size="124" text-anchor="middle"><text transform="translate(3.9,3.9) scale(0.794,1.064)" font-family="'Liberation Sans', sans-serif">|</text><text x="50.6" y="0" font-size="140" stroke="#000" stroke-width="1">ρ</text><text x="146.0" y="0" font-size="126">(i)</text><text transform="translate(220.0,3.9) scale(0.794,1.064)" font-family="'Liberation Sans', sans-serif">|</text></g>
</g>
</svg>
</body></html>
